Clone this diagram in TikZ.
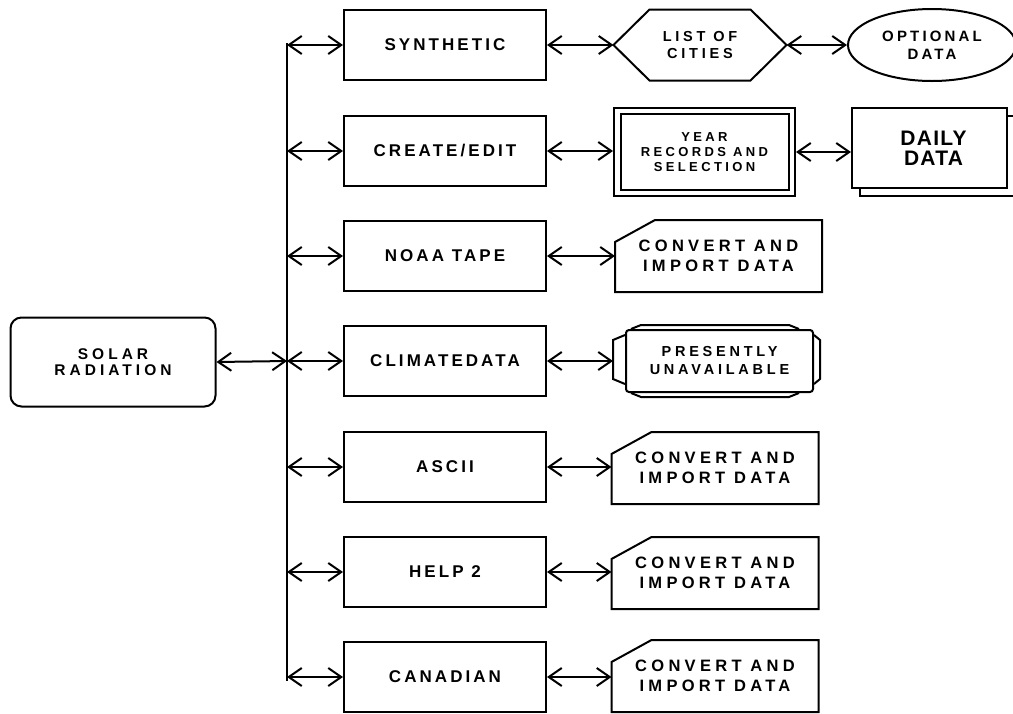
\documentclass[tikz,border=0pt]{standalone}
\usepackage{fontspec}
\setmainfont{Liberation Sans}[LetterSpace=18]
\newfontfamily\fwide{Liberation Sans}[LetterSpace=26]
\newfontfamily\fmed{Liberation Sans}[LetterSpace=21]
\newfontfamily\dailyfont{Liberation Sans}[LetterSpace=6]
\usetikzlibrary{arrows.meta,calc,shapes.geometric}
\begin{document}
\begin{tikzpicture}[x=1pt,y=-1pt,line width=2pt,
  every node/.style={align=center,inner sep=0pt,font=\bfseries\fontsize{17}{20}\selectfont},
  midbox/.style={draw,minimum width=202pt,minimum height=70pt},
  convbox/.style={minimum width=205pt,minimum height=70pt,font=\fwide\bfseries\fontsize{16.5}{20}\selectfont},
  biarrow/.style={{Straight Barb[length=13pt,width=18pt,line width=2pt]}-{Straight Barb[length=13pt,width=18pt,line width=2pt]}}
]
\useasboundingbox (0,0) rectangle (1013,713);
% left node
\node[draw,rounded corners=11pt,minimum width=205pt,minimum height=89pt,font=\fwide\bfseries\fontsize{15.5}{16.5}\selectfont] (solar) at (113,362) {SOLAR\\RADIATION};
% middle column
\node[midbox] (syn)  at (445,45)  {SYNTHETIC};
\node[midbox] (cre)  at (445,151) {CREATE/EDIT};
\node[midbox] (noaa) at (445,256) {NOAA TAPE};
\node[midbox] (clim) at (445,361) {CLIMATEDATA};
\node[midbox] (asc)  at (445,467) {ASCII};
\node[midbox] (help) at (445,572) {HELP 2};
\node[midbox] (can)  at (445,677) {CANADIAN};
% bus
\coordinate (bt) at (287,43);
\coordinate (bb) at (287,681);
\draw (bt) -- (bb);
\coordinate (b1) at (287,45);
\coordinate (b2) at (287,151);
\coordinate (b3) at (287,256);
\coordinate (b4) at (287,361);
\coordinate (b5) at (287,467);
\coordinate (b6) at (287,572);
\coordinate (b7) at (287,677);
\draw[biarrow] (b1) -- (syn.west);
\draw[biarrow] (b2) -- (cre.west);
\draw[biarrow] (b3) -- (noaa.west);
\draw[biarrow] (b4) -- (clim.west);
\draw[biarrow] (b5) -- (asc.west);
\draw[biarrow] (b6) -- (help.west);
\draw[biarrow] (b7) -- (can.west);
\draw[biarrow] (solar.east) -- (b4);
% list of cities hexagon
\node[minimum width=171pt,minimum height=69pt,font=\fwide\bfseries\fontsize{14.5}{17}\selectfont] (cities) at (700,45) {LIST OF\\CITIES};
\draw (cities.west) -- ($(cities.north west)+(36,0)$) -- ($(cities.north east)+(-36,0)$) -- (cities.east)
  -- ($(cities.south east)+(-36,0)$) -- ($(cities.south west)+(36,0)$) -- cycle;
% optional data ellipse
\node[draw,ellipse,minimum width=168pt,minimum height=72pt,font=\fmed\bfseries\fontsize{15}{18}\selectfont] (opt) at (932,45) {OPTIONAL\\DATA};
% year records double box
\node[draw,minimum width=181pt,minimum height=88pt,font=\fwide\bfseries\fontsize{13}{15}\selectfont] (year) at (704.5,152) {YEAR\\RECORDS AND\\SELECTION};
\draw[line width=2.5pt] ($(year.north west)+(8,7)$) rectangle ($(year.south east)+(-7,-7)$);
% daily data stacked
\draw[fill=white] (860,116) rectangle (1015,196);
\node[draw,fill=white,minimum width=155pt,minimum height=80pt,font=\dailyfont\bfseries\fontsize{21}{20}\selectfont] (daily) at (929.5,148) {\hspace{8pt}DAILY\\\hspace{8pt}DATA};
% convert boxes
\node[convbox] (noaac) at (718.5,256) {CONVERT AND\\IMPORT DATA};
\node[convbox] (ascc)  at (715,468)   {CONVERT AND\\IMPORT DATA};
\node[convbox] (helpc) at (715,573)   {CONVERT AND\\IMPORT DATA};
\node[convbox] (canc)  at (715,676)   {CONVERT AND\\IMPORT DATA};
\foreach \n in {noaac,ascc,helpc,canc}
  \draw (\n.south west) -- ($(\n.north west)+(0,22)$) -- ($(\n.north west)+(40,0)$) -- (\n.north east) -- (\n.south east) -- cycle;
% presently unavailable
\node[draw,rounded corners=3pt,minimum width=187pt,minimum height=62pt,font=\fwide\bfseries\fontsize{14.5}{18}\selectfont] (unav) at (719.5,361) {PRESENTLY\\UNAVAILABLE};
\coordinate (unavw) at ($(unav.west)+(-12,0)$);
\draw ($(unav.north west)+(0,6)$) -- ++(-12,5) -- ++(0,39) -- ++(12,5);
\draw ($(unav.north east)+(0,6)$) -- ++(6,5) -- ++(0,39) -- ++(-6,5);
\draw ($(unav.north west)+(6,0)$) -- ++(10,-4) -- ($(unav.north east)+(-25,-4)$) -- ++(10,4);
\draw ($(unav.south west)+(6,0)$) -- ++(10,4) -- ($(unav.south east)+(-25,4)$) -- ++(10,-4);
% right arrows
\draw[biarrow] (syn.east) -- (cities.west);
\draw[biarrow] (cities.east) -- (opt.west);
\draw[biarrow] (cre.east) -- (cre.east -| year.west);
\draw[biarrow] (year.east) -- (year.east -| daily.west);
\draw[biarrow] (noaa.east) -- (noaac.west);
\draw[biarrow] (clim.east) -- (unavw);
\draw[biarrow] (asc.east) -- (asc.east -| ascc.west);
\draw[biarrow] (help.east) -- (help.east -| helpc.west);
\draw[biarrow] (can.east) -- (can.east -| canc.west);
\end{tikzpicture}
\end{document}
